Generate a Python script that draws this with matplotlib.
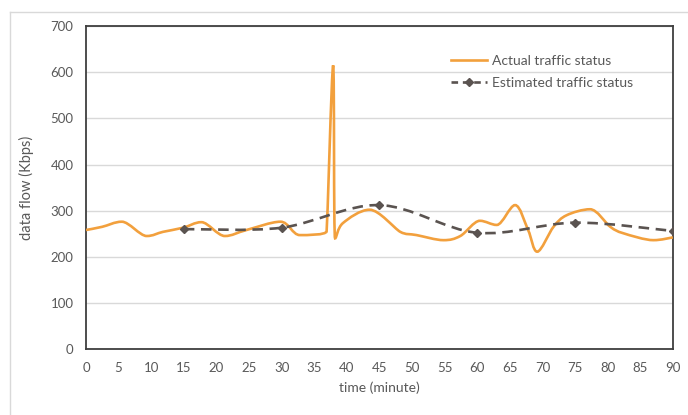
import numpy as np
import matplotlib
matplotlib.use('Agg')
import matplotlib.pyplot as plt
from matplotlib.path import Path
from matplotlib.patches import PathPatch
from matplotlib.lines import Line2D

plt.rcParams['font.family'] = ['Lato', 'DejaVu Sans']

# actual traffic (minute, Kbps)
actual_t = [0, 2.5, 5.5, 9.3, 11.8, 14.9, 17.7, 21.3, 24.6, 29.8, 32.8, 36.9, 37.9, 38.2,
            39.4, 43.5, 48.2, 50.7, 54.8, 57.4, 60.4, 63.0, 65.8, 67.8, 69.2, 71.7, 73.7,
            77.3, 80.4, 82.4, 87.0, 90]
actual_v = [258, 265, 276, 245, 254, 263, 275, 245, 258, 276, 247, 255, 615, 240,
            273, 302, 254, 247, 236, 245, 278, 269, 312, 258, 211, 265, 290,
            303, 265, 251, 236, 242]

# estimated traffic
est_t = [15, 30, 45, 60, 75, 90]
est_v = [260, 263, 312, 252, 274, 256]

x_ticks = list(range(0, 91, 5))
y_ticks = list(range(0, 701, 100))

ORANGE = '#f2a03d'
DARK = '#5a5350'
TEXT = '#595959'


def smooth_path(xs, ys, clamp=True):
    # smoothed line like excel: bezier segments with catmull-rom tangents,
    # tangents damped so the curve does not overshoot the read values
    pts = np.column_stack([xs, ys]).astype(float)
    n = len(pts)
    tang = []
    for i in range(n):
        p0 = pts[max(i - 1, 0)]
        p2 = pts[min(i + 1, n - 1)]
        m = (p2 - p0) / 6.0
        if clamp and 0 < i < n - 1:
            d1 = pts[i, 1] - pts[i - 1, 1]
            d2 = pts[i + 1, 1] - pts[i, 1]
            if d1 * d2 <= 0:
                m[1] = 0.0
            elif abs(m[1]) > 0:
                m = m * min(1.0, abs(d1) / abs(m[1]), abs(d2) / abs(m[1]))
        tang.append(m)
    verts = [pts[0]]
    codes = [Path.MOVETO]
    for i in range(n - 1):
        verts += [pts[i] + tang[i], pts[i + 1] - tang[i + 1], pts[i + 1]]
        codes += [Path.CURVE4] * 3
    return Path(verts, codes)


fig = plt.figure(figsize=(6.88, 4.15), dpi=100)
ax = fig.add_axes([0.125, 0.159, 0.853, 0.778])

ax.add_patch(PathPatch(smooth_path(actual_t, actual_v), fill=False,
                       edgecolor=ORANGE, linewidth=1.9, zorder=3))
ax.add_patch(PathPatch(smooth_path(est_t, est_v, clamp=False), fill=False,
                       edgecolor=DARK, linewidth=1.9, linestyle=(0, (4, 2.5)),
                       zorder=4))
ax.plot(est_t, est_v, linestyle='none', marker='D', markersize=4.5,
        color=DARK, zorder=5)

ax.set_xlim(0, 90)
ax.set_ylim(0, 700)
ax.set_xticks(x_ticks)
ax.set_yticks(y_ticks)
ax.tick_params(length=0, labelsize=9.5, labelcolor=TEXT, pad=9)
ax.grid(axis='y', color='#d9d9d9', linewidth=1)
ax.set_axisbelow(True)
for s in ax.spines.values():
    s.set_color('#3f3f3f')
    s.set_linewidth(1.3)

ax.set_xlabel('time (minute)', fontsize=10, color=TEXT, labelpad=6)
ax.set_ylabel('data flow (Kbps)', fontsize=10.5, color=TEXT, labelpad=12)

handles = [Line2D([], [], color=ORANGE, linewidth=1.9),
           Line2D([], [], color=DARK, linewidth=1.9, linestyle=(0, (2.5, 1.8)),
                  marker='D', markersize=4.5)]
ax.legend(handles, ['Actual traffic status', 'Estimated traffic status'],
          loc='upper left', bbox_to_anchor=(0.6, 0.95), frameon=False,
          fontsize=10, labelcolor=TEXT, handlelength=2.6, handletextpad=0.4,
          labelspacing=0.7)

# faint outer frame of the original screenshot
fig.add_artist(Line2D([10 / 688, 1], [1 - 12 / 415, 1 - 12 / 415],
                      color='#d9d9d9', linewidth=1))
fig.add_artist(Line2D([10 / 688, 10 / 688], [0, 1 - 12 / 415],
                      color='#d9d9d9', linewidth=1))

fig.savefig('out.png', dpi=100)
